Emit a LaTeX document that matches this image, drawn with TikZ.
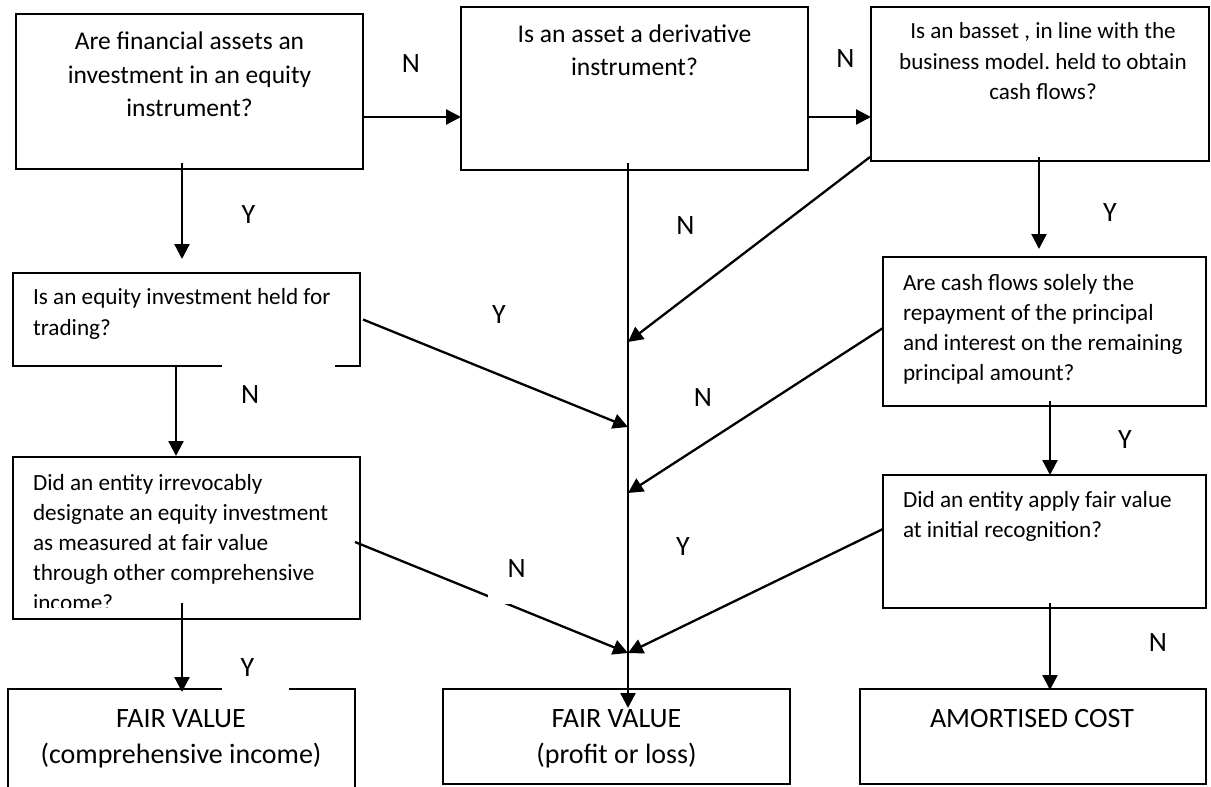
\documentclass[tikz,border=0pt]{standalone}
\usepackage{fontspec}
\setmainfont{Carlito}
\usetikzlibrary{arrows.meta}
\frenchspacing
\begin{document}
\begin{tikzpicture}[x=1pt,y=-1pt,
  box/.style={draw=black, line width=1.5pt, inner sep=0pt, outer sep=0pt},
  txt/.style={inner sep=0pt, outer sep=0pt},
  big/.style={font=\fontsize{25.5}{33.5}\selectfont},
  mid/.style={font=\fontsize{23.2}{30.5}\selectfont},
  res/.style={font=\fontsize{28}{36}\selectfont},
  flow/.style={line width=2.3pt, -{Triangle[length=15pt,width=15pt]}},
  lab/.style={inner sep=0pt, outer sep=0pt, font=\fontsize{28}{34}\selectfont},
  gap/.style={lab, fill=white, align=left},
]
\fill[white] (0,0) rectangle (1211,787);
\clip (0,0) rectangle (1211,787);

% question boxes
\node[box, minimum width=347pt, minimum height=155pt] (b1) at (189.5,91.5) {};
\node[box, minimum width=347pt, minimum height=163pt] (b2) at (634.5,88.5) {};
\node[box, minimum width=338pt, minimum height=154pt] (b3) at (1040,84) {};
\node[box, minimum width=347pt, minimum height=93pt]  (b4) at (186.5,319.5) {};
\node[box, minimum width=347pt, minimum height=162pt] (b5) at (186.5,538) {};
\node[box, minimum width=323pt, minimum height=149pt] (b9) at (1044.5,331.5) {};
\node[box, minimum width=323pt, minimum height=133pt] (b10) at (1044.5,541.5) {};
% result boxes
\node[box, minimum width=347pt, minimum height=131pt] (b6) at (181.5,754.5) {};
\node[box, minimum width=347pt, minimum height=95pt]  (b7) at (616.5,736.5) {};
\node[box, minimum width=346pt, minimum height=95pt]  (b8) at (1033,736.5) {};

% box texts
\node[txt, big, align=center, anchor=north] (t1) at (189.5,26.5)
  {\strut Are financial assets an\\\strut investment in an equity\\\strut instrument?};
\node[txt, font=\fontsize{25.6}{33}\selectfont, align=center, anchor=north] (t2) at (634.5,18.9)
  {\strut Is an asset a derivative\\\strut instrument?};
\node[txt, font=\fontsize{23.1}{30.5}\selectfont, align=center, anchor=north] (t3) at (1043,17.6)
  {\strut Is an basset , in line with the\\\strut business model. held to obtain\\\strut cash flows?};
\node[txt, mid, align=left, anchor=north west] (t4) at (33,283.6)
  {\strut Is an equity investment held for\\\strut trading?};
\begin{scope}
  \clip (13,457) rectangle (360,607);
  \node[txt, font=\fontsize{23.2}{30}\selectfont, align=left, anchor=north west] (t5) at (33,469)
    {\strut Did an entity irrevocably\\\strut designate an equity investment\\\strut as measured at fair value\\\strut through other comprehensive\\\strut income?};
\end{scope}
\node[txt, font=\fontsize{23.2}{30}\selectfont, align=left, anchor=north west] (t9) at (903,269)
  {\strut Are cash flows solely the\\\strut repayment of the principal\\\strut and interest on the remaining\\\strut principal amount?};
\node[txt, font=\fontsize{23.2}{30}\selectfont, align=left, anchor=north west] (t10) at (903,486)
  {\strut Did an entity apply fair value\\\strut at initial recognition?};
\node[txt, res, align=center, anchor=north] (t6) at (181,701.8)
  {\strut FAIR VALUE\\\strut (comprehensive income)};
\node[txt, res, align=center, anchor=north] (t7) at (616.5,701.8)
  {\strut FAIR VALUE\\\strut (profit or loss)};
\node[txt, res, align=center, anchor=north] (t8) at (1032,701.8)
  {\strut AMORTISED COST};

% junctions on the central line
\coordinate (j1) at (628,342);
\coordinate (j2) at (628,427);
\coordinate (j3) at (628,493);
\coordinate (j4) at (628,653);

% connectors
\draw[flow] ([yshift=-25.5pt]b1.east) -- ([yshift=-28.5pt]b2.west);
\draw[flow] ([yshift=-28.5pt]b2.east) -- ([yshift=-33pt]b3.west);
\draw[flow] ([xshift=-7.5pt,yshift=6pt]b1.south) -- ([xshift=-4.5pt,yshift=14pt]b4.north);
\draw[flow] ([xshift=-10.5pt]b4.south) -- ([xshift=-10.5pt,yshift=1pt]b5.north);
\draw[flow] ([xshift=-4.5pt,yshift=16pt]b5.south) -- ([xshift=0.5pt,yshift=-3pt]b6.north);
\draw[flow] ([xshift=-6.5pt,yshift=7pt]b2.south) -- ([xshift=11.5pt,yshift=-19pt]b7.north);
\draw[flow] ([xshift=-1pt,yshift=4pt]b3.south west) -- (j1);
\draw[flow] ([xshift=3pt]b4.east) -- (j2);
\draw[flow] ([yshift=3.5pt]b9.west) -- (j3);
\draw[flow] ([xshift=-5pt,yshift=-4pt]b5.east) -- (j4);
\draw[flow] ([yshift=12.5pt]b10.west) -- (j4);
\draw[flow] ([xshift=-1pt,yshift=4pt]b3.south) -- ([xshift=-5.5pt,yshift=8pt]b9.north);
\draw[flow] ([xshift=5.5pt,yshift=5pt]b9.south) -- ([xshift=5.5pt]b10.north);
\draw[flow] ([xshift=5.5pt,yshift=5pt]b10.south) -- ([xshift=17pt,yshift=-1pt]b8.north);

% branch labels
\node[lab] (lN1) at (411,64) {N};
\node[lab] (lN2) at (845.5,58.5) {N};
\node[lab] (lY1) at (248.5,215) {Y};
\node[lab] (lNc) at (685.5,226) {N};
\node[lab] (lY3) at (1110,213) {Y};
\node[lab] (lYt) at (499,315) {Y};
\node[lab] (lN9) at (703,398) {N};
\node[lab] (lY9) at (1125,440) {Y};
\node[lab] (lY10) at (683,547) {Y};
\node[lab] (lN10) at (1158,643) {N};
\node[gap, anchor=west, text width=75pt, inner xsep=19pt, minimum height=62pt] (lN4) at (222,395) {N};
\node[gap, anchor=west, text width=30pt, inner xsep=18.5pt, minimum height=46pt] (lY5) at (222,668) {Y};
\node[gap, anchor=south west, text width=20pt, inner xsep=19.5pt, minimum height=70pt] (lN5) at (488,604) {N};
\end{tikzpicture}
\end{document}
